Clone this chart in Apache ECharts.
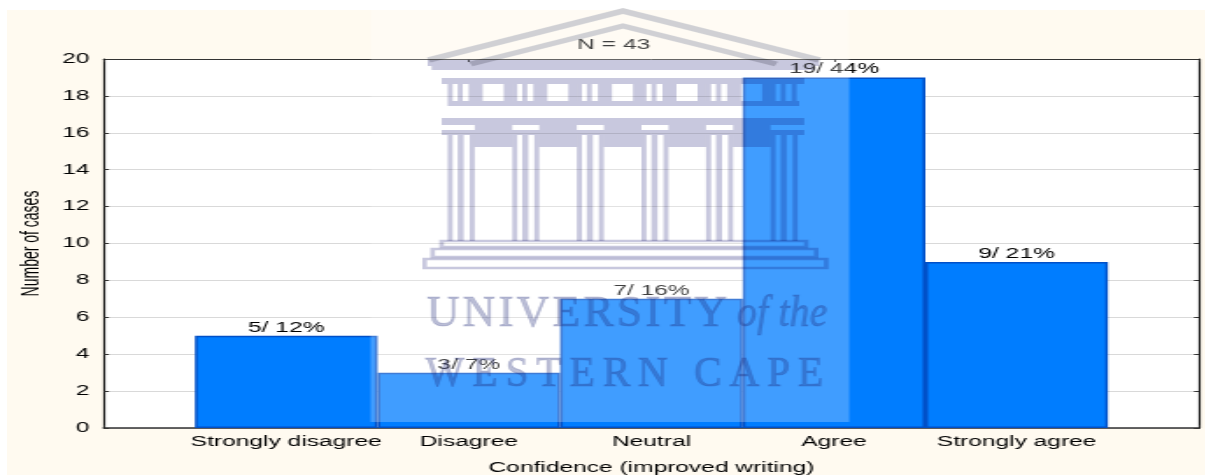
<!DOCTYPE html>
<html>
<head>
<meta charset="utf-8">
<style>
html,body{margin:0;padding:0;background:#fff;width:1205px;height:475px;overflow:hidden}
#paper{position:absolute;left:7px;top:10px;right:0;bottom:0;background:#fffaf0}
#chart{position:absolute;left:0;top:0;height:475px;transform-origin:0 0;filter:blur(0.35px)}
</style>
<script src="https://cdn.jsdelivr.net/npm/echarts@6/dist/echarts.min.js"></script>
</head>
<body>
<div id="paper"></div>
<div id="chart"></div>
<script>
const categories = ['Strongly disagree', 'Disagree', 'Neutral', 'Agree', 'Strongly agree'];
const counts = [5, 3, 7, 19, 9];
const percents = [12, 7, 16, 44, 21];
const sampleLabel = 'N = 43';
const xTitle = 'Confidence (improved writing)';
const yTitle = 'Number of cases';

// The source picture is a horizontally stretched image: the chart is laid out narrow and stretched.
const SX = 1.75;
const W = 1205 / SX;
const el = document.getElementById('chart');
el.style.width = W + 'px';
el.style.transform = 'scaleX(' + SX + ')';
const chart = echarts.init(el, null, {width: W, height: 475});

const INK = 'rgb(200,200,222)';
const box = (x0, y0, x1, y1) => ({
  type: 'rect', z: 10, silent: true,
  shape: {x: x0 / SX, y: y0, width: (x1 - x0) / SX, height: y1 - y0},
  style: {fill: INK, blend: 'multiply'}
});
const outline = (x0, y0, x1, y1) => ({
  type: 'rect', z: 10, silent: true,
  shape: {x: x0 / SX, y: y0, width: (x1 - x0) / SX, height: y1 - y0},
  style: {fill: null, stroke: INK, lineWidth: 2.6, blend: 'multiply'}
});
const roof = (x0, y0, xm, ym, x1, y1, lw) => ({
  type: 'polyline', z: 10, silent: true,
  shape: {points: [[x0 / SX, y0], [xm / SX, ym], [x1 / SX, y1]]},
  style: {fill: null, stroke: 'rgb(208,208,212)', lineWidth: lw, blend: 'multiply'}
});
// Watermark lettering, spread letter by letter between two picture x positions.
const measure = document.createElement('canvas').getContext('2d');
const spread = (t, x0, x1, y, font, glyphScale) => {
  measure.font = font;
  const ws = Array.from(t).map(c => measure.measureText(c).width * glyphScale);
  const gap = (x1 - x0 - ws.reduce((a, b) => a + b, 0)) / (t.length - 1);
  let x = x0;
  return Array.from(t).map((c, i) => {
    const e = {type: 'text', z: 10, silent: true, x: x / SX, y: y, scaleX: glyphScale / SX,
      style: {text: c, font: font, fill: 'rgba(30,40,120,0.3)', stroke: 'rgba(30,40,120,0.2)', lineWidth: 1,
              verticalAlign: 'bottom'}};
    x += ws[i] + gap;
    return e;
  });
};

const logo = [
  {type: 'rect', z: 10, silent: true,
   shape: {x: 370 / SX, y: 10, width: 478 / SX, height: 412},
   style: {fill: 'rgba(255,255,255,0.25)'}},
  roof(428, 60, 622, 11, 818, 60, 5.5),
  roof(470, 64, 622, 26, 775, 64, 5),
  box(427, 60, 818, 66), box(431, 66, 814, 70),
  box(441, 78, 803, 84),
  box(447, 101, 798, 106), box(441, 118, 803, 125), box(441, 130, 803, 135),
  outline(441, 241, 805, 247), outline(432, 249, 815, 257), outline(424, 259, 825, 268)
].concat(
  spread('UNIVERSITY', 426, 726, 337, '45px "Liberation Serif"', 1.0),
  spread('of the', 736, 826, 336, 'italic 44px "Liberation Serif"', 0.9),
  spread('WESTERN CAPE', 425, 822, 396, '42px "Liberation Serif"', 0.98)
);
for (let i = 0; i < 6; i++) {
  const p = 447 + 64.5 * i;
  // frieze pieces between the windows
  if (i < 5) {
    [[0, 5], [10, 15], [21, 35], [56, 64.5]].forEach(s => logo.push(box(p + s[0], 84, p + s[1], 101)));
    logo.push(box(p + 27, 125, p + 64.5, 130));
    logo.push(box(p + 27, 135, p + 64.5, 147));
  } else {
    logo.push(box(p, 84, p + 5, 101), box(p + 10, 84, p + 15, 101), box(p + 21, 84, p + 26, 101));
  }
  // column strips
  [[0, 5], [10, 16], [22, 27]].forEach(s => logo.push(box(p + s[0], 135, p + s[1], 241)));
}

const axisLine = (w, c) => ({show: true, onZero: false, lineStyle: {color: c, width: w}});
const ticks = c => ({show: true, inside: true, length: 3, lineStyle: {color: c, width: 1}});
const labelFont = {fontFamily: '"Liberation Sans"', fontSize: 14, color: '#000'};
const xCats = [''].concat(categories, ['']);
const xVals = [null].concat(counts, [null]);

chart.setOption({
  animation: false,
  title: {text: sampleLabel, left: 604 / SX, top: 33, textAlign: 'center',
          textStyle: Object.assign({}, labelFont, {fontWeight: 'normal'})},
  grid: {show: true, backgroundColor: '#fff', borderWidth: 0, outerBoundsMode: 'none',
         left: 103.5 / SX, right: (1205 - 1197.5) / SX, top: 59, bottom: 47, containLabel: false},
  xAxis: [
    {type: 'category', data: xCats, boundaryGap: false, position: 'bottom',
     axisLine: axisLine(1.5, '#333'), axisTick: ticks('#222'),
     axisLabel: Object.assign({margin: 7, interval: 0}, labelFont),
     splitLine: {show: false},
     name: xTitle, nameLocation: 'middle', nameGap: 33, nameTextStyle: labelFont},
    {type: 'category', data: xCats, boundaryGap: false, position: 'top',
     axisLine: axisLine(1, '#333'), axisTick: ticks('#222'), axisLabel: {show: false}, splitLine: {show: false}}
  ],
  yAxis: [
    {type: 'value', min: 0, max: 20, interval: 2, position: 'left',
     axisLine: axisLine(1.2, '#111'), axisTick: ticks('#333'),
     axisLabel: Object.assign({margin: 8}, labelFont),
     splitLine: {show: true, lineStyle: {color: '#d9d9d9', width: 1}},
     name: yTitle, nameLocation: 'middle', nameGap: 32, nameTextStyle: labelFont},
    {type: 'value', min: 0, max: 20, interval: 2, position: 'right',
     axisLine: axisLine(1.2, '#111'), axisTick: ticks('#333'),
     axisLabel: {show: false}, splitLine: {show: false}}
  ],
  series: [{
    type: 'bar', data: xVals, barWidth: '100%', z: 2,
    itemStyle: {color: '#007dff', borderColor: '#0050c8', borderWidth: 1.5},
    label: {show: true, position: 'top', distance: 1,
      fontFamily: '"Liberation Sans"', fontSize: 14, color: '#000',
      formatter: p => counts[p.dataIndex - 1] + '/ ' + percents[p.dataIndex - 1] + '%'}
  }],
  graphic: {elements: logo}
});
</script>
</body>
</html>
